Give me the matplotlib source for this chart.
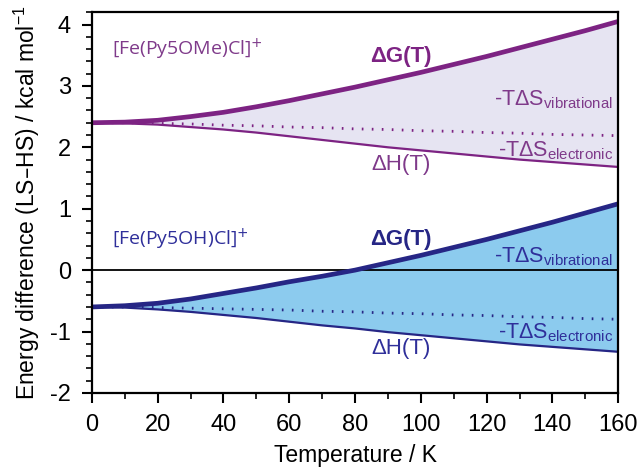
import matplotlib
matplotlib.use('Agg')
import matplotlib.pyplot as plt
from matplotlib.ticker import MultipleLocator

# temperatures (K)
T = [0, 10, 20, 30, 40, 50, 60, 70, 80, 90, 100, 110, 120, 130, 140, 150, 160]

# [Fe(Py5OMe)Cl]+
ome_G = [2.40, 2.41, 2.44, 2.50, 2.57, 2.66, 2.76, 2.87, 2.98, 3.10, 3.22, 3.35, 3.48, 3.62, 3.76, 3.90, 4.05]
ome_H = [2.40, 2.39, 2.37, 2.33, 2.29, 2.24, 2.18, 2.12, 2.06, 2.00, 1.95, 1.90, 1.85, 1.80, 1.76, 1.72, 1.68]
ome_E = [2.40, 2.40, 2.39, 2.38, 2.36, 2.35, 2.33, 2.32, 2.30, 2.29, 2.27, 2.26, 2.24, 2.23, 2.21, 2.20, 2.19]

# [Fe(Py5OH)Cl]+
oh_G = [-0.60, -0.58, -0.54, -0.47, -0.38, -0.29, -0.19, -0.10, 0.00, 0.12, 0.24, 0.37, 0.50, 0.64, 0.78, 0.93, 1.08]
oh_H = [-0.60, -0.61, -0.64, -0.68, -0.73, -0.78, -0.84, -0.90, -0.95, -1.01, -1.06, -1.11, -1.16, -1.21, -1.25, -1.29, -1.33]
oh_E = [-0.60, -0.60, -0.61, -0.62, -0.63, -0.64, -0.65, -0.67, -0.68, -0.70, -0.71, -0.73, -0.74, -0.76, -0.77, -0.79, -0.80]

purple = '#7d2383'
purple_txt = '#7f3a8a'
lav = '#e6e4f2'
navy = '#262685'
navy_txt = '#2f2f9a'
sky = '#8ccbee'

plt.rcParams['font.family'] = ['Liberation Sans', 'DejaVu Sans']
plt.rcParams['axes.unicode_minus'] = False

fig = plt.figure(figsize=(6.38, 4.70), dpi=100)
ax = fig.add_axes([0.144, 0.164, 0.825, 0.81])

ax.fill_between(T, ome_H, ome_G, color=lav, lw=0)
ax.fill_between(T, oh_H, oh_G, color=sky, lw=0)
ax.axhline(0, color='black', lw=1.3)

ax.plot(T, ome_G, color=purple, lw=3.4)
ax.plot(T, ome_H, color=purple, lw=1.6)
ax.plot(T, ome_E, color=purple, lw=2, ls=(0, (0.6, 3.0)))
ax.plot(T, oh_G, color=navy, lw=3.4)
ax.plot(T, oh_H, color=navy, lw=1.6)
ax.plot(T, oh_E, color=navy, lw=2, ls=(0, (0.6, 3.0)))

ax.set_xlim(0, 160)
ax.set_ylim(-2, 4.2)
ax.xaxis.set_major_locator(MultipleLocator(20))
ax.xaxis.set_minor_locator(MultipleLocator(10))
ax.yaxis.set_major_locator(MultipleLocator(1))
ax.yaxis.set_minor_locator(MultipleLocator(0.2))
ax.tick_params(which='major', direction='out', length=7, width=1.5, labelsize=17, pad=8)
ax.tick_params(which='minor', direction='out', length=4, width=1.2)
for s in ax.spines.values():
    s.set_linewidth(1.6)

ax.set_xlabel('Temperature / K', fontsize=16.5, labelpad=6)
ax.set_ylabel('Energy difference (LS\u2013HS) / kcal mol$^{\\mathregular{-1}}$', fontsize=16.5, labelpad=6)

cal = ['Open Sans', 'DejaVu Sans']
ax.text(6, 3.6, '[Fe(Py5OMe)Cl]$^{+}$', color=purple_txt, fontsize=14, family=cal, va='center')
ax.text(6, 0.5, '[Fe(Py5OH)Cl]$^{+}$', color=navy_txt, fontsize=14, family=cal, va='center')

ax.text(94, 3.48, '\u0394G(T)', color=purple, fontsize=16, fontweight='bold', ha='center', va='center')
ax.text(94, 1.72, '\u0394H(T)', color=purple_txt, fontsize=16, ha='center', va='center')
ax.text(158.5, 2.78, '-T\u0394S$_{\\mathregular{vibrational}}$', color=purple_txt, fontsize=15.5, ha='right', va='center')
ax.text(158.5, 1.94, '-T\u0394S$_{\\mathregular{electronic}}$', color=purple_txt, fontsize=15.5, ha='right', va='center')

ax.text(94, 0.5, '\u0394G(T)', color=navy, fontsize=16, fontweight='bold', ha='center', va='center')
ax.text(94, -1.27, '\u0394H(T)', color=navy_txt, fontsize=16, ha='center', va='center')
ax.text(158.5, 0.22, '-T\u0394S$_{\\mathregular{vibrational}}$', color=navy_txt, fontsize=15.5, ha='right', va='center')
ax.text(158.5, -1.02, '-T\u0394S$_{\\mathregular{electronic}}$', color=navy_txt, fontsize=15.5, ha='right', va='center')

fig.savefig('out.png', dpi=100)
